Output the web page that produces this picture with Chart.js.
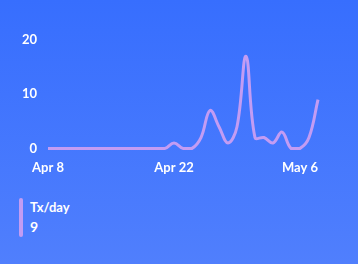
<!DOCTYPE html>
<html>
<head>
<meta charset="utf-8">
<script src="https://cdn.jsdelivr.net/npm/chart.js@4"></script>
<style>
	html, body {
		margin: 0;
		padding: 0;
	}
	body {
		width: 358px;
		height: 264px;
		overflow: hidden;
		background: linear-gradient(180deg, #376efe 0%, #507ffd 100%);
		font-family: Lato, sans-serif;
		position: relative;
	}
	#wrap {
		position: absolute;
		left: 0;
		top: 0;
		width: 358px;
		height: 188px;
	}
	.legend-bar {
		position: absolute;
		left: 19px;
		top: 198px;
		width: 4px;
		height: 39px;
		border-radius: 2px;
		background: #c39cf3;
	}
	.legend {
		position: absolute;
		left: 30px;
		top: 199px;
		color: #ffffff;
		font-weight: bold;
	}
	.legend .name {
		font-size: 13px;
		line-height: 17px;
	}
	.legend .value {
		font-size: 14px;
		line-height: 18px;
		margin-top: 2px;
	}
</style>
</head>
<body>
<div id="wrap"><canvas id="txChart"></canvas></div>
<div class="legend-bar"></div>
<div class="legend">
	<div class="name">Tx/day</div>
	<div class="value" id="lastValue"></div>
</div>
<script>
	// days from Apr 8 to May 8
	const days = [
		"Apr 8", "Apr 9", "Apr 10", "Apr 11", "Apr 12", "Apr 13", "Apr 14",
		"Apr 15", "Apr 16", "Apr 17", "Apr 18", "Apr 19", "Apr 20", "Apr 21",
		"Apr 22", "Apr 23", "Apr 24", "Apr 25", "Apr 26", "Apr 27", "Apr 28",
		"Apr 29", "Apr 30", "May 1", "May 2", "May 3", "May 4", "May 5",
		"May 6", "May 7", "May 8",
	];
	const txPerDay = [
		0, 0, 0, 0, 0, 0, 0, 0, 0, 0, 0, 0, 0, 0,
		1, 0, 0, 2, 7, 4, 1, 4, 17, 2, 2, 1, 3, 0, 0, 2, 9,
	];
	const shownTicks = ["Apr 8", "Apr 22", "May 6"];
	const yTicks = [0, 10, 20];

	document.getElementById("lastValue").innerHTML = txPerDay[txPerDay.length - 1];

	const ctx = document.getElementById("txChart").getContext("2d");
	const txChart = new Chart(ctx, {
		type: "line",
		data: {
			labels: days,
			datasets: [
				{
					label: "Tx/day",
					data: txPerDay,
					borderColor: "#c39cf3",
					borderWidth: 3,
					tension: 0.4,
					pointRadius: 0,
					fill: false,
					clip: false,
				},
			],
		},
		options: {
			responsive: true,
			maintainAspectRatio: false,
			animation: false,
			layout: {
				padding: { top: 40, right: 40, left: 0, bottom: 0 },
			},
			plugins: {
				legend: { display: false },
				tooltip: { enabled: false },
			},
			scales: {
				x: {
					grid: { display: false, drawTicks: false },
					border: { display: false },
					ticks: {
						autoSkip: false,
						maxRotation: 0,
						padding: 12,
						color: "#ffffff",
						font: { family: "Lato", size: 13, weight: "bold" },
						callback: function (value, index) {
							const label = days[index];
							return shownTicks.includes(label) ? label : "";
						},
					},
				},
				y: {
					min: yTicks[0],
					max: yTicks[yTicks.length - 1],
					afterFit: function (scale) {
						scale.width = 48;
					},
					afterBuildTicks: function (scale) {
						scale.ticks = yTicks.map(function (v) { return { value: v }; });
					},
					grid: { display: false, drawTicks: false },
					border: { display: false },
					ticks: {
						padding: 11,
						color: "#ffffff",
						font: { family: "Lato", size: 13, weight: "bold" },
					},
				},
			},
		},
	});
</script>
</body>
</html>
